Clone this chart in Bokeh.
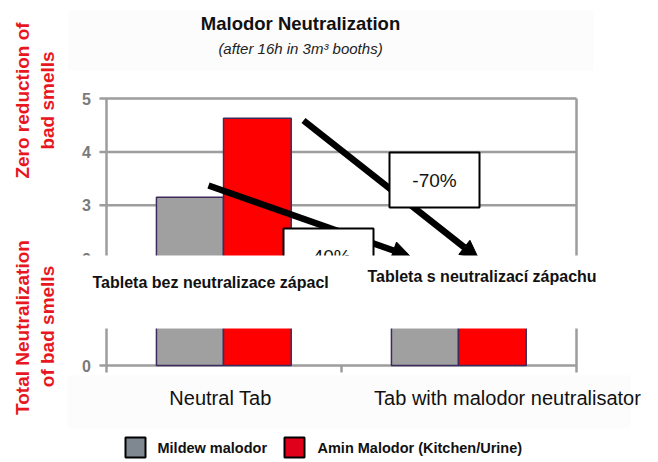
import numpy as np
from bokeh.plotting import figure
from bokeh.models import Range1d
from bokeh.core.properties import value
from bokeh.embed import file_html
from bokeh.resources import INLINE

# ---------------- data ----------------
categories = ["Neutral Tab", "Tab with malodor neutralisator"]
series_names = ["Mildew malodor", "Amin Malodor (Kitchen/Urine)"]
mildew = [3.15, 1.9]
amin = [4.63, 1.4]
y_ticks = [0, 1, 2, 3, 4, 5]
reductions = ["-40%", "-70%"]
band_labels = ["Tableta bez neutralizace zápacl", "Tableta s neutralizací zápachu"]
title_text = "Malodor Neutralization"
subtitle_text = "(after 16h in 3m³ booths)"
ylab_top = ["Zero reduction of", "bad smells"]
ylab_bottom = ["Total Neutralization", "of bad smells"]

FONT = value("Liberation Sans")
RED_TXT = "#e8171f"

W, H = 658, 462
# data mapping: page x = 223.5 + 235*x ; page y = 365 - 53.4*y
p = figure(width=W, height=H, output_backend="svg", toolbar_location=None,
           x_range=Range1d((0 - 223.5) / 235, (W - 223.5) / 235),
           y_range=Range1d((365 - H) / 53.4, (365 - 0) / 53.4),
           x_axis_location=None, y_axis_location=None,
           min_border=0, outline_line_color=None,
           background_fill_color="white", border_fill_color="white")
p.grid.visible = False
p.extra_x_ranges = {"px": Range1d(0, W)}
p.extra_y_ranges = {"px": Range1d(H, 0)}
kw = dict(x_range_name="px", y_range_name="px")

# faint background boxes
p.quad(left=[68, 67], right=[593, 630], top=[10, 375], bottom=[70, 428],
       fill_color="#fcfcfc", line_color=None, **kw)

# grid / axis lines
idx = np.arange(len(categories))
n = len(y_ticks)
p.segment(x0=[-0.53] * n, y0=y_ticks, x1=[len(categories) - 0.5] * n, y1=y_ticks,
          line_color="#9d9d9d", line_width=2.5)
p.segment(x0=[-0.5, len(categories) - 0.5, 0.5], y0=[-0.13, -0.13, -0.13],
          x1=[-0.5, len(categories) - 0.5, 0.5], y1=[max(y_ticks), max(y_ticks), 0],
          line_color="#9d9d9d", line_width=2.5)

# bars
p.vbar(x=idx - 0.145, top=mildew, bottom=0, width=0.285,
       fill_color="#a0a0a0", line_color="#3d2b5e", line_width=1.5)
p.vbar(x=idx + 0.142, top=amin, bottom=0, width=0.288,
       fill_color="#ff0000", line_color="#3d2b5e", line_width=1.5)

# y tick labels
p.text(x=[-0.585] * n, y=y_ticks, text=[str(t) for t in y_ticks],
       text_align="center", text_baseline="middle", text_font=FONT,
       text_font_size="16px", text_font_style="bold", text_color="#7a7a7a")


def arrow(x0, y0, x1, y1, hl=18, hw=18):
    d = np.array([x1 - x0, y1 - y0], float)
    d /= np.hypot(*d)
    nrm = np.array([-d[1], d[0]])
    base = np.array([x1, y1]) - d * hl
    p.segment(x0=[x0], y0=[y0], x1=[base[0]], y1=[base[1]],
              line_color="black", line_width=6.5, line_cap="butt", **kw)
    pts = [np.array([x1, y1]), base + nrm * hw / 2, base - nrm * hw / 2]
    p.patch(x=[q[0] for q in pts], y=[q[1] for q in pts],
            fill_color="black", line_color="black", **kw)


arrow(303, 120, 478, 258)
arrow(208, 185, 410, 256)

# percentage boxes
p.quad(left=[283, 389], right=[373, 479], top=[228, 152], bottom=[283, 207],
       fill_color="white", line_color="black", line_width=2, **kw)
p.text(x=[328, 434], y=[256, 180], text=reductions, text_align="center",
       text_baseline="middle", text_font=FONT, text_font_size="19px",
       text_color="#111111", **kw)

# white band covering the middle
p.quad(left=[62], right=[632], top=[255], bottom=[328],
       fill_color="white", line_color=None, **kw)
p.text(x=[92, 367], y=[282, 276], text=band_labels, text_align="left",
       text_baseline="middle", text_font=FONT, text_font_size="16px",
       text_font_style="bold", text_color="#111111", **kw)

# title and subtitle
p.text(x=[300], y=[23], text=[title_text], text_align="center", text_baseline="middle",
       text_font=FONT, text_font_size="18.5px", text_font_style="bold",
       text_color="#111111", **kw)
p.text(x=[300], y=[48], text=[subtitle_text], text_align="center", text_baseline="middle",
       text_font=FONT, text_font_size="15px", text_font_style="italic",
       text_color="#222222", **kw)

# red rotated axis captions
p.text(x=[22, 47, 22, 47], y=[100, 100, 327, 326],
       text=ylab_top + ylab_bottom, angle=np.pi / 2,
       text_align="center", text_baseline="middle", text_font=FONT,
       text_font_size="19px", text_font_style="bold", text_color=RED_TXT, **kw)

# category labels
p.text(x=[220, 507], y=[397, 397], text=categories, text_align="center",
       text_baseline="middle", text_font=FONT, text_font_size="20px",
       text_color="#111111", **kw)

# legend
p.rect(x=[135, 294], y=[447, 447], width=20, height=20,
       fill_color=["#7f8790", "#e0001b"], line_color="black", line_width=2, **kw)
p.text(x=[157, 317], y=[447, 447], text=series_names, text_align="left",
       text_baseline="middle", text_font=FONT, text_font_size="14.5px",
       text_font_style="bold", text_color="#111111", **kw)

open("out.html", "w").write(file_html(p, INLINE))
